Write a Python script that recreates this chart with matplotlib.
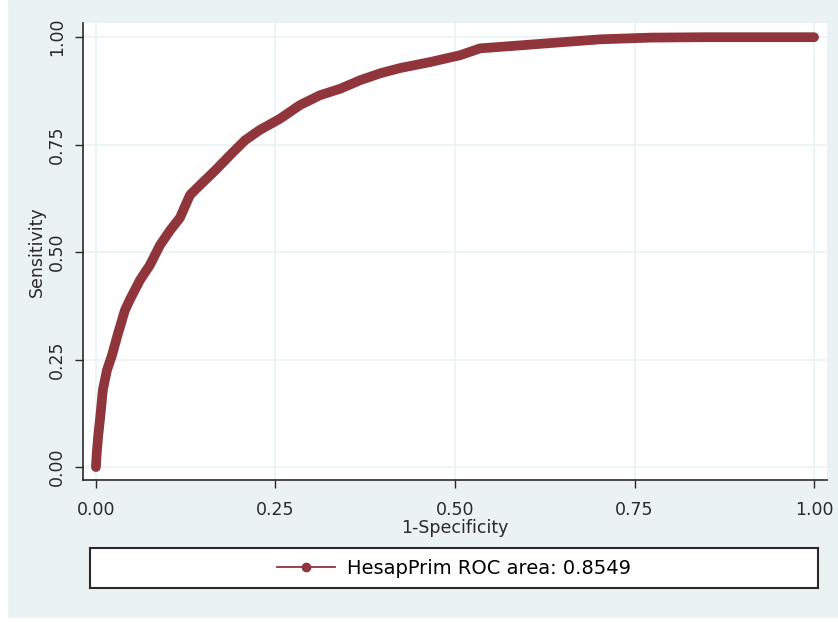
import numpy as np
import matplotlib
matplotlib.use("Agg")
import matplotlib.pyplot as plt
from matplotlib.lines import Line2D
from matplotlib.patches import Rectangle

# ROC curve points
fpr = [0.0, 0.001, 0.003, 0.0056, 0.0097, 0.0153, 0.0223, 0.0306, 0.0404, 0.0474,
       0.0613, 0.0752, 0.0891, 0.103, 0.117, 0.131, 0.145, 0.166, 0.187, 0.2075,
       0.228, 0.256, 0.284, 0.312, 0.340, 0.368, 0.396, 0.423, 0.465, 0.507,
       0.535, 0.591, 0.646, 0.702, 0.772, 0.85, 1.0]
tpr = [0.0, 0.03, 0.07, 0.11, 0.18, 0.225, 0.26, 0.31, 0.365, 0.39,
       0.435, 0.47, 0.516, 0.55, 0.58, 0.633, 0.656, 0.69, 0.726, 0.76,
       0.784, 0.81, 0.842, 0.865, 0.88, 0.90, 0.916, 0.928, 0.942, 0.958,
       0.974, 0.981, 0.988, 0.995, 0.999, 1.0, 1.0]
ticks = [0.0, 0.25, 0.5, 0.75, 1.0]
tick_labels = ["0.00", "0.25", "0.50", "0.75", "1.00"]
legend_label = "HesapPrim ROC area: 0.8549"

red = "#90353b"
bg = "#eaf2f3"
ink = "#2a2a2a"

plt.rcParams["font.family"] = "DejaVu Sans"

fig = plt.figure(figsize=(8.38, 6.22), dpi=100, facecolor=bg)
# thin white strips at left and bottom edge
fig.patches.append(Rectangle((0, 0), 7 / 838, 1, transform=fig.transFigure, color="white", zorder=-1))
fig.patches.append(Rectangle((0, 0), 1, 4 / 622, transform=fig.transFigure, color="white", zorder=-1))

ax = fig.add_axes([83 / 838, 1 - 480 / 622, 744 / 838, 457 / 622])
ax.set_facecolor("white")
ax.plot(fpr, tpr, color=red, lw=7, solid_capstyle="round", solid_joinstyle="round", zorder=3)
ax.set_xlim(-0.018, 1.018)
ax.set_ylim(-0.030, 1.033)
ax.set_xticks(ticks)
ax.set_xticklabels(tick_labels, fontsize=12.5, color=ink)
ax.set_yticks(ticks)
ax.set_yticklabels(tick_labels, fontsize=12.5, color=ink, rotation=90, va="center")
ax.tick_params(direction="out", length=6, width=1, colors=ink)
ax.tick_params(axis="x", pad=9)
ax.tick_params(axis="y", pad=6)
ax.grid(True, color=bg, lw=1.2)
ax.set_axisbelow(True)
for s in ["top", "right"]:
    ax.spines[s].set_visible(False)
for s in ["left", "bottom"]:
    ax.spines[s].set_color(ink)
    ax.spines[s].set_linewidth(1.2)
ax.set_xlabel("1-Specificity", fontsize=12.5, color=ink, labelpad=0)
ax.set_ylabel("Sensitivity", fontsize=12.5, color=ink, labelpad=2)

# legend box
lax = fig.add_axes([90 / 838, 1 - 588 / 622, 728 / 838, 40 / 622])
lax.set_xticks([])
lax.set_yticks([])
lax.set_facecolor("white")
for s in lax.spines.values():
    s.set_color(ink)
    s.set_linewidth(1.5)
handle = Line2D([], [], color=red, lw=1.3, marker="o", ms=6)
lax.legend([handle], [legend_label], loc="center", frameon=False, fontsize=14,
           handlelength=3.0, handletextpad=0.6)

fig.savefig("out.png", dpi=100, facecolor=bg)
